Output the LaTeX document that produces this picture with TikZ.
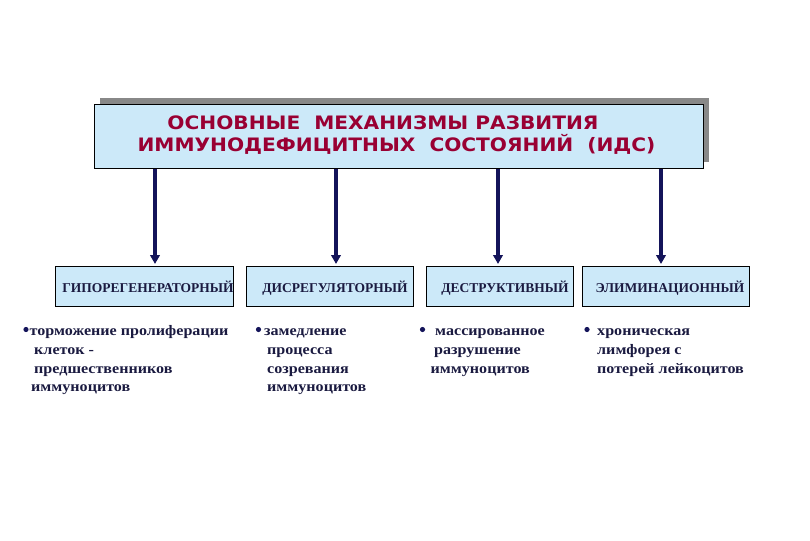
\documentclass[tikz,border=0pt]{standalone}
\usepackage{fontspec}
\setmainfont{Liberation Serif}
\newfontfamily\titlefont{DejaVu Sans}[FakeStretch=1.09]
\newfontfamily\bodyfont{Liberation Serif}[FakeStretch=1.11]
\usetikzlibrary{arrows.meta}
\definecolor{boxblue}{HTML}{CCE9F9}
\definecolor{navy}{HTML}{14145A}
\definecolor{crimson}{HTML}{990033}
\definecolor{shadowgray}{HTML}{888888}
\definecolor{txt}{HTML}{1A1A40}
\tikzset{
  topbox/.style={draw=black, line width=0.8pt, fill=boxblue, anchor=north west, inner sep=0pt},
  subbox/.style={draw=black, line width=0.8pt, fill=boxblue, anchor=north west, inner sep=0pt, minimum height=40pt},
  title/.style={text=crimson, font=\titlefont\bfseries\fontsize{18.5}{22}\selectfont, inner sep=0pt, anchor=base},
  sublabel/.style={text=txt, font=\bfseries\fontsize{13.5}{15}\selectfont, inner sep=0pt, anchor=base},
  bt/.style={text=txt, font=\bodyfont\bfseries\fontsize{14.5}{17}\selectfont, inner sep=0pt, anchor=base west},
  arr/.style={draw=navy, line width=3.5pt, -{Triangle[width=9.5pt,length=9pt]}},
  dot/.style={fill=navy}
}
\begin{document}
\begin{tikzpicture}[x=1pt,y=-1pt]
\useasboundingbox (0,0) rectangle (810,540);
\fill[white] (0,0) rectangle (810,540);
% shadow
\fill[shadowgray] (100,98) rectangle (709,162);
\node[topbox, minimum width=609pt, minimum height=64pt] (top) at (94,104) {};
\node[title] (t1) at (383,130) {ОСНОВНЫЕ\ \ МЕХАНИЗМЫ РАЗВИТИЯ};
\node[title] (t2) at (396.5,152) {ИММУНОДЕФИЦИТНЫХ\ \ СОСТОЯНИЙ\ \ (ИДС)};
% sub boxes
\node[subbox, minimum width=178pt] (b1) at (55,266) {};
\node[subbox, minimum width=167pt] (b2) at (246,266) {};
\node[subbox, minimum width=147pt] (b3) at (426,266) {};
\node[subbox, minimum width=167pt] (b4) at (582,266) {};
\node[sublabel] (l1) at (148,292.5) {ГИПОРЕГЕНЕРАТОРНЫЙ};
\node[sublabel] (l2) at (335,292.5) {ДИСРЕГУЛЯТОРНЫЙ};
\node[sublabel] (l3) at (505,292.5) {ДЕСТРУКТИВНЫЙ};
\node[sublabel] (l4) at (670,292.5) {ЭЛИМИНАЦИОННЫЙ};
% arrows
\coordinate (a1) at (155,0);
\coordinate (a2) at (336,0);
\coordinate (a3) at (498,0);
\coordinate (a4) at (661,0);
\draw[arr, shorten >=2pt] (top.south -| a1) -- (b1.north -| a1);
\draw[arr, shorten >=2pt] (top.south -| a2) -- (b2.north -| a2);
\draw[arr, shorten >=2pt] (top.south -| a3) -- (b3.north -| a3);
\draw[arr, shorten >=2pt] (top.south -| a4) -- (b4.north -| a4);
% bullet texts
\fill[dot] (26,329.5) circle (2.6);
\node[bt] (c1a) at (29.5,335) {торможение пролиферации};
\node[bt] (c1b) at (34,354) {клеток -};
\node[bt] (c1c) at (34,373) {предшественников};
\node[bt] (c1d) at (31,391) {иммуноцитов};
\fill[dot] (258.5,329.5) circle (2.6);
\node[bt] (c2a) at (264,335) {замедление};
\node[bt] (c2b) at (267,354) {процесса};
\node[bt] (c2c) at (267,373) {созревания};
\node[bt] (c2d) at (267,391) {иммуноцитов};
\fill[dot] (422.5,329.5) circle (2.6);
\node[bt] (c3a) at (435,335) {массированное};
\node[bt] (c3b) at (434,354) {разрушение};
\node[bt] (c3c) at (430.5,373) {иммуноцитов};
\fill[dot] (587,329.5) circle (2.6);
\node[bt] (c4a) at (597,335) {хроническая};
\node[bt] (c4b) at (597,354) {лимфорея с};
\node[bt] (c4c) at (597,373) {потерей лейкоцитов};
\end{tikzpicture}
\end{document}
